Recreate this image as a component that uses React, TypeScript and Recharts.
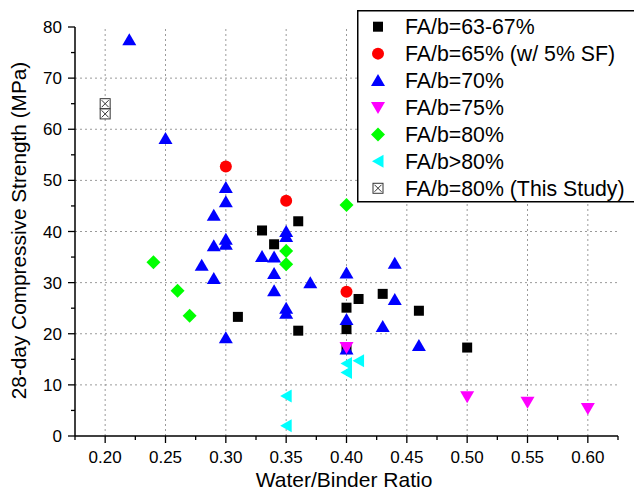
import React from 'react';
import { ScatterChart, Scatter, XAxis, YAxis, ReferenceLine, Legend } from 'recharts';

type Pt = { wb: number; fc: number };

// Tick values
const xAllTicks = [0.175, 0.2, 0.225, 0.25, 0.275, 0.3, 0.325, 0.35, 0.375, 0.4, 0.425, 0.45, 0.475, 0.5, 0.525, 0.55, 0.575, 0.6, 0.625];
const xGridTicks = [0.2, 0.25, 0.3, 0.35, 0.4, 0.45, 0.5, 0.55, 0.6];
const yAllTicks = [0, 5, 10, 15, 20, 25, 30, 35, 40, 45, 50, 55, 60, 65, 70, 75, 80];
const yGridTicks = [10, 20, 30, 40, 50, 60, 70];

// Series data (water/binder ratio, 28-day strength MPa)
const fa6367: Pt[] = [
  { wb: 0.31, fc: 23.3 }, { wb: 0.33, fc: 40.2 }, { wb: 0.34, fc: 37.5 }, { wb: 0.36, fc: 42.0 },
  { wb: 0.36, fc: 20.6 }, { wb: 0.40, fc: 25.1 }, { wb: 0.40, fc: 20.9 }, { wb: 0.40, fc: 17.0 },
  { wb: 0.41, fc: 26.8 }, { wb: 0.43, fc: 27.8 }, { wb: 0.46, fc: 24.5 }, { wb: 0.50, fc: 17.3 },
];
const fa65sf: Pt[] = [
  { wb: 0.30, fc: 52.7 }, { wb: 0.35, fc: 46.0 }, { wb: 0.40, fc: 28.2 },
];
const fa70: Pt[] = [
  { wb: 0.22, fc: 77.5 }, { wb: 0.25, fc: 58.2 }, { wb: 0.28, fc: 33.4 }, { wb: 0.29, fc: 43.2 },
  { wb: 0.29, fc: 37.2 }, { wb: 0.29, fc: 30.8 }, { wb: 0.30, fc: 48.6 }, { wb: 0.30, fc: 45.8 },
  { wb: 0.30, fc: 38.5 }, { wb: 0.30, fc: 37.5 }, { wb: 0.30, fc: 19.2 }, { wb: 0.33, fc: 35.1 },
  { wb: 0.34, fc: 35.0 }, { wb: 0.34, fc: 31.8 }, { wb: 0.34, fc: 28.4 }, { wb: 0.35, fc: 40.0 },
  { wb: 0.35, fc: 39.0 }, { wb: 0.35, fc: 25.0 }, { wb: 0.35, fc: 24.0 }, { wb: 0.37, fc: 30.0 },
  { wb: 0.40, fc: 31.9 }, { wb: 0.40, fc: 22.8 }, { wb: 0.40, fc: 17.0 }, { wb: 0.43, fc: 21.4 },
  { wb: 0.44, fc: 33.8 }, { wb: 0.44, fc: 26.7 }, { wb: 0.46, fc: 17.7 },
];
const fa75: Pt[] = [
  { wb: 0.40, fc: 17.3 }, { wb: 0.50, fc: 7.7 }, { wb: 0.55, fc: 6.6 }, { wb: 0.60, fc: 5.4 },
];
const fa80: Pt[] = [
  { wb: 0.24, fc: 34.0 }, { wb: 0.26, fc: 28.4 }, { wb: 0.27, fc: 23.5 }, { wb: 0.35, fc: 36.2 },
  { wb: 0.35, fc: 33.6 }, { wb: 0.40, fc: 45.2 },
];
const faOver80: Pt[] = [
  { wb: 0.35, fc: 7.8 }, { wb: 0.35, fc: 2.0 }, { wb: 0.40, fc: 14.2 }, { wb: 0.40, fc: 12.4 },
  { wb: 0.41, fc: 14.7 },
];
const thisStudy: Pt[] = [
  { wb: 0.20, fc: 65.0 }, { wb: 0.20, fc: 63.0 },
];

const FONT = 'Liberation Sans, Arial, Helvetica, sans-serif';

type Kind = 'square' | 'circle' | 'up' | 'down' | 'diamond' | 'left' | 'crossed';

const renderMarker = (kind: Kind, cx: number, cy: number, color: string, key?: string) => {
  switch (kind) {
    case 'square':
      return <rect key={key} x={cx - 5} y={cy - 5} width={10} height={10} fill={color} />;
    case 'circle':
      return <circle key={key} cx={cx} cy={cy} r={6} fill={color} />;
    case 'up':
      return <polygon key={key} points={`${cx},${cy - 6.5} ${cx - 7},${cy + 5.5} ${cx + 7},${cy + 5.5}`} fill={color} />;
    case 'down':
      return <polygon key={key} points={`${cx - 7},${cy - 5.5} ${cx + 7},${cy - 5.5} ${cx},${cy + 6.5}`} fill={color} />;
    case 'diamond':
      return <polygon key={key} points={`${cx},${cy - 7} ${cx + 7},${cy} ${cx},${cy + 7} ${cx - 7},${cy}`} fill={color} />;
    case 'left':
      return <polygon key={key} points={`${cx - 6},${cy} ${cx + 5.5},${cy - 6.5} ${cx + 5.5},${cy + 6.5}`} fill={color} />;
    case 'crossed':
    default:
      return (
        <g key={key}>
          <rect x={cx - 5} y={cy - 5} width={10} height={10} fill="#fff" stroke={color} strokeWidth={1} />
          <line x1={cx - 3.5} y1={cy - 3.5} x2={cx + 3.5} y2={cy + 3.5} stroke={color} strokeWidth={1} />
          <line x1={cx - 3.5} y1={cy + 3.5} x2={cx + 3.5} y2={cy - 3.5} stroke={color} strokeWidth={1} />
        </g>
      );
  }
};

const seriesDefs: { name: string; data: Pt[]; color: string; kind: Kind }[] = [
  { name: 'FA/b=63-67%', data: fa6367, color: '#000000', kind: 'square' },
  { name: 'FA/b=65% (w/ 5% SF)', data: fa65sf, color: '#ff0000', kind: 'circle' },
  { name: 'FA/b=70%', data: fa70, color: '#0000ff', kind: 'up' },
  { name: 'FA/b=75%', data: fa75, color: '#ff00ff', kind: 'down' },
  { name: 'FA/b=80%', data: fa80, color: '#00ff00', kind: 'diamond' },
  { name: 'FA/b>80%', data: faOver80, color: '#00ffff', kind: 'left' },
  { name: 'FA/b=80% (This Study)', data: thisStudy, color: '#333333', kind: 'crossed' },
];

const isMajorX = (v: number) => Math.abs(v * 20 - Math.round(v * 20)) < 1e-6;
const isMajorY = (v: number) => Math.abs(v % 10) < 1e-6;

const BottomTick = (props: any) => {
  const { x, y, payload } = props;
  const v = payload.value as number;
  const major = isMajorX(v);
  return (
    <g>
      <line x1={x} x2={x} y1={y} y2={y + (major ? 7 : 4)} stroke="#000" strokeWidth={1.3} />
      {major && (
        <text x={x} y={y + 26.5} textAnchor="middle" fontSize={17} fontFamily={FONT} fill="#000">
          {v.toFixed(2)}
        </text>
      )}
    </g>
  );
};

const TopTick = (props: any) => {
  const { x, y, payload } = props;
  const major = isMajorX(payload.value);
  return <line x1={x} x2={x} y1={y} y2={y + (major ? 7 : 4)} stroke="#000" strokeWidth={1.2} />;
};

const LeftTick = (props: any) => {
  const { x, y, payload } = props;
  const v = payload.value as number;
  const major = isMajorY(v);
  return (
    <g>
      <line x1={x - (major ? 7 : 4)} x2={x} y1={y} y2={y} stroke="#000" strokeWidth={1.3} />
      {major && (
        <text x={x - 13} y={y + 6} textAnchor="end" fontSize={17} fontFamily={FONT} fill="#000">
          {v}
        </text>
      )}
    </g>
  );
};

const RightTick = (props: any) => {
  const { x, y, payload } = props;
  const major = isMajorY(payload.value);
  return <line x1={x - (major ? 7 : 4)} x2={x} y1={y} y2={y} stroke="#000" strokeWidth={1.2} />;
};

const XTitle = () => (
  <text x={344} y={487} textAnchor="middle" fontSize={21} fontFamily={FONT} fill="#000">
    Water/Binder Ratio
  </text>
);

const YTitle = () => (
  <text
    x={25.5}
    y={230.5}
    textAnchor="middle"
    fontSize={20.8}
    fontFamily={FONT}
    fill="#000"
    transform="rotate(-90, 25.5, 230.5)"
  >
    28-day Compressive Strength (MPa)
  </text>
);

const LegendBox = (props: any) => {
  const payload = (props.payload || []) as any[];
  const present = new Set(payload.map((e: any) => e.value));
  const items = seriesDefs.filter((d) => present.size === 0 || present.has(d.name));
  return (
    <svg width={277} height={193} style={{ display: 'block' }}>
      <rect x={0.75} y={0.75} width={300} height={191} fill="#fff" stroke="#000" strokeWidth={1.5} />
      {items.map((def, i) => {
        const cy = 16.7 + i * 26.93;
        return (
          <g key={def.name}>
            {renderMarker(def.kind, 21, cy, def.color)}
            <text x={48} y={cy + 7.5} fontSize={21.3} fontFamily={FONT} fill="#000">
              {def.name}
            </text>
          </g>
        );
      })}
    </svg>
  );
};

export default function App() {
  return (
    <div style={{ position: 'absolute', left: 0, top: 0, width: 634, height: 491, background: '#fff' }}>
      <ScatterChart width={634} height={491} margin={{ top: 27, right: 16, bottom: 0, left: 0 }}>
        <XAxis
          xAxisId={0}
          type="number"
          dataKey="wb"
          domain={[0.175, 0.625]}
          allowDataOverflow
          ticks={xAllTicks}
          interval={0}
          height={55}
          tickSize={0}
          tickMargin={0}
          tickLine={false}
          tick={<BottomTick />}
          axisLine={{ stroke: '#000', strokeWidth: 1.5 }}
          label={<XTitle />}
        />
        <XAxis
          xAxisId="top"
          orientation="top"
          type="number"
          domain={[0.175, 0.625]}
          allowDataOverflow
          ticks={xAllTicks}
          interval={0}
          height={0}
          tickSize={0}
          tickMargin={0}
          tickLine={false}
          tick={<TopTick />}
          axisLine={{ stroke: '#000', strokeWidth: 1.5 }}
        />
        <YAxis
          yAxisId={0}
          type="number"
          dataKey="fc"
          domain={[0, 80]}
          allowDataOverflow
          ticks={yAllTicks}
          interval={0}
          width={75}
          tickSize={0}
          tickMargin={0}
          tickLine={false}
          tick={<LeftTick />}
          axisLine={{ stroke: '#000', strokeWidth: 1.5 }}
          label={<YTitle />}
        />
        <YAxis
          yAxisId="right"
          orientation="right"
          type="number"
          domain={[0, 80]}
          allowDataOverflow
          ticks={yAllTicks}
          interval={0}
          width={0}
          tickSize={0}
          tickMargin={0}
          tickLine={false}
          tick={<RightTick />}
          axisLine={{ stroke: '#000', strokeWidth: 1.5 }}
        />
        {xGridTicks.map((v) => (
          <ReferenceLine key={`gx${v}`} x={v} xAxisId={0} yAxisId={0} stroke="#9a9a9a" strokeWidth={1} strokeDasharray="2 3" />
        ))}
        {yGridTicks.map((v) => (
          <ReferenceLine key={`gy${v}`} y={v} xAxisId={0} yAxisId={0} stroke="#9a9a9a" strokeWidth={1} strokeDasharray="2 3" />
        ))}
        {seriesDefs.map((s) => (
          <Scatter
            key={s.name}
            name={s.name}
            data={s.data}
            fill={s.color}
            xAxisId={0}
            yAxisId={0}
            isAnimationActive={false}
            shape={(p: any) => renderMarker(s.kind, p.cx, p.cy, s.color)}
          />
        ))}
        <Legend
          layout="vertical"
          align="center"
          verticalAlign="middle"
          content={<LegendBox />}
          wrapperStyle={{ position: 'absolute', left: 357, top: 10, width: 277, height: 193, margin: 0, padding: 0 }}
        />
      </ScatterChart>
    </div>
  );
}
